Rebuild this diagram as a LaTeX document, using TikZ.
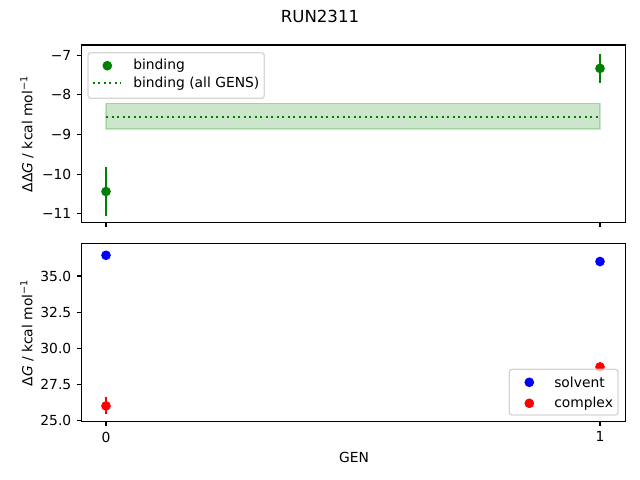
\documentclass[tikz,border=0pt]{standalone}
\usepackage{fontspec}
\setmainfont{DejaVu Sans}
\usetikzlibrary{calc}

\definecolor{mplgreen}{rgb}{0,0.5,0}
\definecolor{framegrey}{rgb}{0.8,0.8,0.8}

\tikzset{
  spine/.style={line width=0.8pt},
  tickmark/.style={line width=0.8pt},
  ticklabel/.style={inner sep=0pt},
  errbar/.style={line width=1.5pt},
  dot/.style={radius=3.5pt},
  band/.style={fill=mplgreen,fill opacity=0.2,draw=mplgreen,draw opacity=0.2,line width=1pt},
  allgens/.style={mplgreen,line width=1.5pt,dash pattern=on 1.5pt off 2.475pt},
  legendbox/.style={draw=framegrey,fill=white,opacity=0.8,rounded corners=2pt,line width=1pt},
  legendtext/.style={anchor=west,inner sep=0pt},
}

\begin{document}
\begin{tikzpicture}[x=0.01in,y=-0.01in,
  declare function={gx(\g)=106+494*\g; ty(\v)=55.3-39.6*(\v+7); by(\v)=276-14.47*(\v-35);}]
\useasboundingbox (0,0) rectangle (640,480);

\node (title) at (320,16) {\large RUN2311};

% top panel: binding
\draw[band] ({gx(0)},{ty(-8.21)}) rectangle ({gx(1)},{ty(-8.86)});
\draw[allgens] ({gx(0)},{ty(-8.55)}) -- ({gx(1)},{ty(-8.55)});
\draw[errbar,mplgreen] ({gx(0)},{ty(-9.82)}) -- ({gx(0)},{ty(-11.06)});
\fill[mplgreen] ({gx(0)},{ty(-10.44)}) circle[dot];
\draw[errbar,mplgreen] ({gx(1)},{ty(-6.97)}) -- ({gx(1)},{ty(-7.69)});
\fill[mplgreen] ({gx(1)},{ty(-7.33)}) circle[dot];

\draw[spine] (81.5,45) rectangle (625.7,222.5);
\foreach \v/\t in {-7/−7,-8/−8,-9/−9,-10/−10,-11/−11}
  \draw[tickmark] (81.5,{ty(\v)}) -- ++(-4.86,0)
    node[ticklabel,anchor=east,xshift=-3.5pt] (ttick\t) {\t};
\foreach \g in {0,1}
  \draw[tickmark] ({gx(\g)},222.5) -- ++(0,4.86);
\node[rotate=90] (toplabel) at (27,134) {ΔΔ\textit{G} / kcal mol\textsuperscript{−1}};

\draw[legendbox] (88,52.7) rectangle (264.3,98.3);
\fill[mplgreen] (107.3,65.7) circle[dot];
\node[legendtext] (keybind) at (133,65.7) {binding};
\draw[allgens] (92.7,83.3) -- (120.7,83.3);
\node[legendtext] (keyall) at (133,83.3) {binding (all GENS)};

% bottom panel: solvent and complex
\fill[blue] ({gx(0)},{by(36.43)}) circle[dot];
\fill[blue] ({gx(1)},{by(36.0)}) circle[dot];
\draw[errbar,red] ({gx(0)},{by(26.67)}) -- ({gx(0)},{by(25.47)});
\fill[red] ({gx(0)},{by(26.02)}) circle[dot];
\fill[red] ({gx(1)},{by(28.72)}) circle[dot];

\draw[spine] (81.5,243.5) rectangle (625.7,421.5);
\foreach \v/\t in {35/35.0,32.5/32.5,30/30.0,27.5/27.5,25/25.0}
  \draw[tickmark] (81.5,{by(\v)}) -- ++(-4.86,0)
    node[ticklabel,anchor=east,xshift=-3.5pt] (btick\v) {\t};
\foreach \g in {0,1}
  \draw[tickmark] ({gx(\g)},421.5) -- ++(0,4.86)
    node[ticklabel,anchor=north,yshift=-3.5pt] (xtick\g) {\g};
\node[rotate=90] (botlabel) at (27,333) {Δ\textit{G} / kcal mol\textsuperscript{−1}};
\node (xlabel) at (354,457) {GEN};

\draw[legendbox] (509.3,369.3) rectangle (618,415);
\fill[blue] (529.3,382.3) circle[dot];
\node[legendtext] (keysolv) at (554,382.3) {solvent};
\fill[red] (529.3,403.3) circle[dot];
\node[legendtext] (keycplx) at (554,403.3) {complex};
\end{tikzpicture}
\end{document}
